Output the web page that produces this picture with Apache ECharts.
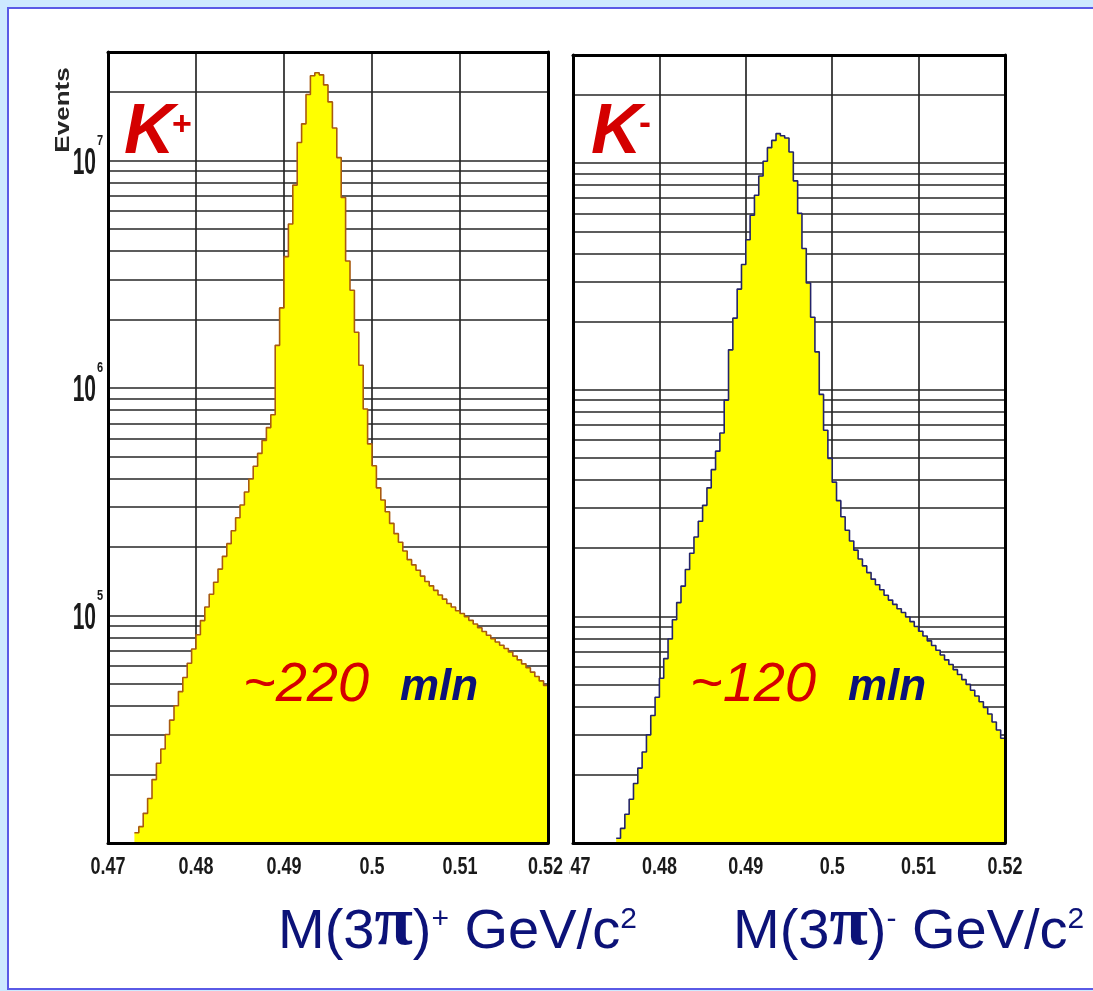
<!DOCTYPE html>
<html>
<head>
<meta charset="utf-8">
<script src="https://cdn.jsdelivr.net/npm/echarts@6/dist/echarts.min.js"></script>
<style>
  html, body { margin: 0; padding: 0; background: #cde9ff; }
  #chart { width: 1093px; height: 991px; }
</style>
</head>
<body>
<div id="chart"></div>
<script>
// Invariant-mass histograms of K -> 3pi decays, 100 bins of 0.0005 GeV/c^2
const massMin = 0.47;
const massMax = 0.52;
const binWidth = 0.0005;
const massTicks = [0.47, 0.48, 0.49, 0.5, 0.51, 0.52];

// Log scale of the event counts
const countMin = 1e4;
const countMax = 3e7;
const decadeLabels = [1e5, 1e6, 1e7];
const countGrid = [
  2e4, 3e4, 4e4, 5e4, 6e4, 7e4, 8e4, 9e4,
  1e5, 2e5, 3e5, 4e5, 5e5, 6e5, 7e5, 8e5, 9e5,
  1e6, 2e6, 3e6, 4e6, 5e6, 6e6, 7e6, 8e6, 9e6,
  1e7, 2e7
];

// Events per bin, M(3pi)+
const kPlusCounts = [
  0, 0, 0, 0, 0, 0, 1.11e4, 1.18e4, 1.35e4, 1.57e4,
  1.90e4, 2.24e4, 2.59e4, 3.00e4, 3.47e4, 4.01e4, 4.63e4, 5.34e4, 6.17e4, 7.12e4,
  8.23e4, 9.50e4, 1.09e5, 1.24e5, 1.40e5, 1.60e5, 1.82e5, 2.07e5, 2.36e5, 2.69e5,
  3.06e5, 3.49e5, 3.98e5, 4.53e5, 5.16e5, 5.88e5, 6.70e5, 7.63e5, 1.54e6, 2.25e6,
  3.78e6, 5.26e6, 7.80e6, 1.20e7, 1.45e7, 1.95e7, 2.36e7, 2.43e7, 2.38e7, 2.15e7,
  1.81e7, 1.39e7, 1.03e7, 6.88e6, 3.62e6, 2.69e6, 1.76e6, 1.26e6, 8.09e5, 5.68e5,
  4.55e5, 3.64e5, 3.22e5, 2.86e5, 2.54e5, 2.29e5, 2.10e5, 1.92e5, 1.76e5, 1.67e5,
  1.58e5, 1.49e5, 1.41e5, 1.35e5, 1.29e5, 1.23e5, 1.18e5, 1.13e5, 1.09e5, 1.05e5,
  1.02e5, 9.87e4, 9.52e4, 9.17e4, 8.83e4, 8.50e4, 8.19e4, 7.91e4, 7.65e4, 7.40e4,
  7.16e4, 6.91e4, 6.63e4, 6.38e4, 6.13e4, 5.89e4, 5.64e4, 5.39e4, 5.16e4, 4.93e4
];

// Events per bin, M(3pi)-
const kMinusCounts = [
  0, 0, 0, 0, 0, 0, 0, 0, 0, 0,
  1.05e4, 1.16e4, 1.34e4, 1.56e4, 1.83e4, 2.14e4, 2.52e4, 3.00e4, 3.65e4, 4.40e4,
  5.33e4, 6.51e4, 7.95e4, 9.66e4, 1.15e5, 1.36e5, 1.61e5, 1.90e5, 2.24e5, 2.63e5,
  3.09e5, 3.69e5, 4.44e5, 5.36e5, 6.44e5, 9.00e5, 1.50e6, 2.07e6, 2.78e6, 3.57e6,
  4.59e6, 5.89e6, 7.22e6, 8.77e6, 1.02e7, 1.17e7, 1.26e7, 1.35e7, 1.32e7, 1.29e7,
  1.12e7, 8.35e6, 6.00e6, 4.20e6, 2.96e6, 2.09e6, 1.47e6, 9.54e5, 6.63e5, 4.98e5,
  3.91e5, 3.24e5, 2.75e5, 2.40e5, 2.15e5, 1.96e5, 1.79e5, 1.67e5, 1.56e5, 1.46e5,
  1.38e5, 1.31e5, 1.24e5, 1.18e5, 1.13e5, 1.08e5, 1.04e5, 9.93e4, 9.48e4, 9.02e4,
  8.60e4, 8.19e4, 7.80e4, 7.44e4, 7.09e4, 6.75e4, 6.43e4, 6.13e4, 5.82e4, 5.54e4,
  5.26e4, 5.01e4, 4.72e4, 4.45e4, 4.20e4, 3.96e4, 3.71e4, 3.42e4, 3.15e4, 2.90e4
];

// Step-line points at bin left edges, closed by the last bin's right edge
function histPoints(counts) {
  const pts = [];
  counts.forEach((c, i) => {
    if (c > 0) pts.push([+(massMin + i * binWidth).toFixed(4), c]);
  });
  pts.push([massMax, counts[counts.length - 1]]);
  return pts;
}

function baseX(grid) {
  return {
    type: 'value', gridIndex: grid, min: massMin, max: massMax, interval: 0.01,
    axisLine: { show: false }, axisTick: { show: false }, axisLabel: { show: false },
    splitLine: { show: true, lineStyle: { color: '#1a1a1a', width: 1.6 } },
    z: 0
  };
}
function frameX(grid, pos, z) {
  return {
    type: 'value', gridIndex: grid, position: pos, min: massMin, max: massMax, interval: 0.01,
    axisLine: { show: true, onZero: false, lineStyle: { color: '#000', width: 3 } },
    axisTick: { show: false }, splitLine: { show: false }, axisLabel: { show: false },
    z: z
  };
}
function baseY(grid) {
  return {
    type: 'log', logBase: 10, gridIndex: grid, min: countMin, max: countMax,
    axisLine: { show: false }, axisTick: { show: false }, axisLabel: { show: false },
    splitLine: { show: false }, z: 0
  };
}
function frameY(grid, pos, z) {
  return {
    type: 'log', logBase: 10, gridIndex: grid, position: pos, min: countMin, max: countMax,
    axisLine: { show: true, onZero: false, lineStyle: { color: '#000', width: 3 } },
    axisTick: { show: false }, splitLine: { show: false }, axisLabel: { show: false },
    z: z
  };
}

function gridSeries(xi, yi) {
  return {
    type: 'line', xAxisIndex: xi, yAxisIndex: yi, data: [], symbol: 'none',
    silent: true, animation: false, z: 1,
    markLine: {
      silent: true, symbol: 'none', animation: false, z: 1,
      label: { show: false },
      lineStyle: { color: '#262626', width: 1.6, type: 'solid' },
      data: countGrid.map(v => ({ yAxis: v }))
    }
  };
}
function histSeries(xi, yi, counts, edge) {
  return {
    type: 'line', xAxisIndex: xi, yAxisIndex: yi, data: histPoints(counts),
    step: 'end', symbol: 'none', silent: true, animation: false, clip: true, z: 3,
    lineStyle: { color: edge, width: 1.6 },
    areaStyle: { color: '#ffff00', opacity: 1, origin: 'start' }
  };
}

const navy = '#0c1278';
const red = '#d40000';
const sans = "'Liberation Sans', Arial, sans-serif";

function titleText(x, sign) {
  return {
    type: 'text', z: 100, x: x, y: 961,
    style: {
      text: 'M(3{p|π}){s|' + sign + '} GeV/c{s|2}',
      font: '56px ' + sans, fill: navy, align: 'left', verticalAlign: 'bottom',
      lineHeight: 56,
      rich: {
        p: { font: "bold 70px 'Liberation Serif', serif", fill: navy, verticalAlign: 'bottom', lineHeight: 56 },
        s: { font: '30px ' + sans, fill: navy, verticalAlign: 'top', lineHeight: 30 }
      }
    }
  };
}

const baseGraphics = [
  {
    type: 'rect', z: -100, silent: true,
    shape: { x: 8, y: 8, width: 1100, height: 981 },
    style: { fill: '#ffffff', stroke: '#5a5ae6', lineWidth: 2 }
  },
  {
    type: 'text', z: 100, x: 63, y: 110, rotation: Math.PI / 2, scaleX: 1.3,
    style: { text: 'Events', font: 'bold 20px ' + sans, fill: '#262626', align: 'center', verticalAlign: 'middle' }
  },
  {
    type: 'text', z: 100, x: 124, y: 134,
    style: { text: 'K', font: 'italic bold 70px ' + sans, fill: red, align: 'left', verticalAlign: 'middle' }
  },
  {
    type: 'text', z: 100, x: 172, y: 126,
    style: { text: '+', font: 'bold 34px ' + sans, fill: red, align: 'left', verticalAlign: 'middle' }
  },
  {
    type: 'text', z: 100, x: 591, y: 134,
    style: { text: 'K', font: 'italic bold 70px ' + sans, fill: red, align: 'left', verticalAlign: 'middle' }
  },
  {
    type: 'text', z: 100, x: 639, y: 124,
    style: { text: '-', font: 'bold 36px ' + sans, fill: red, align: 'left', verticalAlign: 'middle' }
  },
  {
    type: 'text', z: 100, x: 243, y: 685,
    style: { text: '~220', font: 'italic 56px ' + sans, fill: red, align: 'left', verticalAlign: 'middle' }
  },
  {
    type: 'text', z: 100, x: 400, y: 688,
    style: { text: 'mln', font: 'italic bold 44px ' + sans, fill: navy, align: 'left', verticalAlign: 'middle' }
  },
  {
    type: 'text', z: 100, x: 690, y: 685,
    style: { text: '~120', font: 'italic 56px ' + sans, fill: red, align: 'left', verticalAlign: 'middle' }
  },
  {
    type: 'text', z: 100, x: 848, y: 688,
    style: { text: 'mln', font: 'italic bold 44px ' + sans, fill: navy, align: 'left', verticalAlign: 'middle' }
  },
  titleText(278, '+'),
  titleText(733, '-')
];

const option = {
  backgroundColor: '#cde9ff',
  animation: false,
  grid: [
    { left: 108, top: 52, width: 440, height: 791 },
    { left: 573, top: 55, width: 432, height: 788 }
  ],
  xAxis: [
    baseX(0), frameX(0, 'bottom', 12), frameX(0, 'top', 12),
    baseX(1), frameX(1, 'bottom', 11), frameX(1, 'top', 11)
  ],
  yAxis: [
    baseY(0), frameY(0, 'left', 12), frameY(0, 'right', 12),
    baseY(1), frameY(1, 'left', 11), frameY(1, 'right', 11)
  ],
  series: [
    gridSeries(0, 0),
    gridSeries(3, 3),
    histSeries(0, 0, kPlusCounts, '#a85a10'),
    histSeries(3, 3, kMinusCounts, '#24246a')
  ],
  graphic: baseGraphics
};

const chart = echarts.init(document.getElementById('chart'), null, { renderer: 'canvas' });
chart.setOption(option);

// Tick labels in a tall narrow face, placed through the axes' own scales
const tickGraphics = [];
const labelColor = '#1a1a1a';
decadeLabels.forEach(d => {
  const py = chart.convertToPixel({ yAxisIndex: 1 }, d);
  const px = chart.convertToPixel({ xAxisIndex: 1 }, massMin);
  tickGraphics.push({
    type: 'text', z: 100, x: px - 12, y: py + 3, scaleY: 1.75,
    style: { text: '10', font: 'bold 21px ' + sans, fill: labelColor, align: 'right', verticalAlign: 'middle' }
  });
  tickGraphics.push({
    type: 'text', z: 100, x: px - 11, y: py - 20, scaleY: 1.35,
    style: { text: String(Math.round(Math.log10(d))), font: 'bold 11px ' + sans, fill: labelColor, align: 'left', verticalAlign: 'middle' }
  });
});
// right panel first so the left panel's last label sits on top of it
[[4, 101, null], [1, 102, '#ffffff']].forEach(([axisIdx, z, bg]) => {
  massTicks.forEach(m => {
    const px = chart.convertToPixel({ xAxisIndex: axisIdx }, m);
    const style = { text: String(m), font: 'bold 18px ' + sans, fill: labelColor, align: 'center', verticalAlign: 'middle' };
    if (bg && m === massMax) { style.backgroundColor = bg; style.padding = [0, 6, 0, 1]; }
    tickGraphics.push({ type: 'text', z: z, x: px, y: 868, scaleY: 1.3, style: style });
  });
});
chart.setOption({ graphic: baseGraphics.concat(tickGraphics) });
</script>
</body>
</html>
